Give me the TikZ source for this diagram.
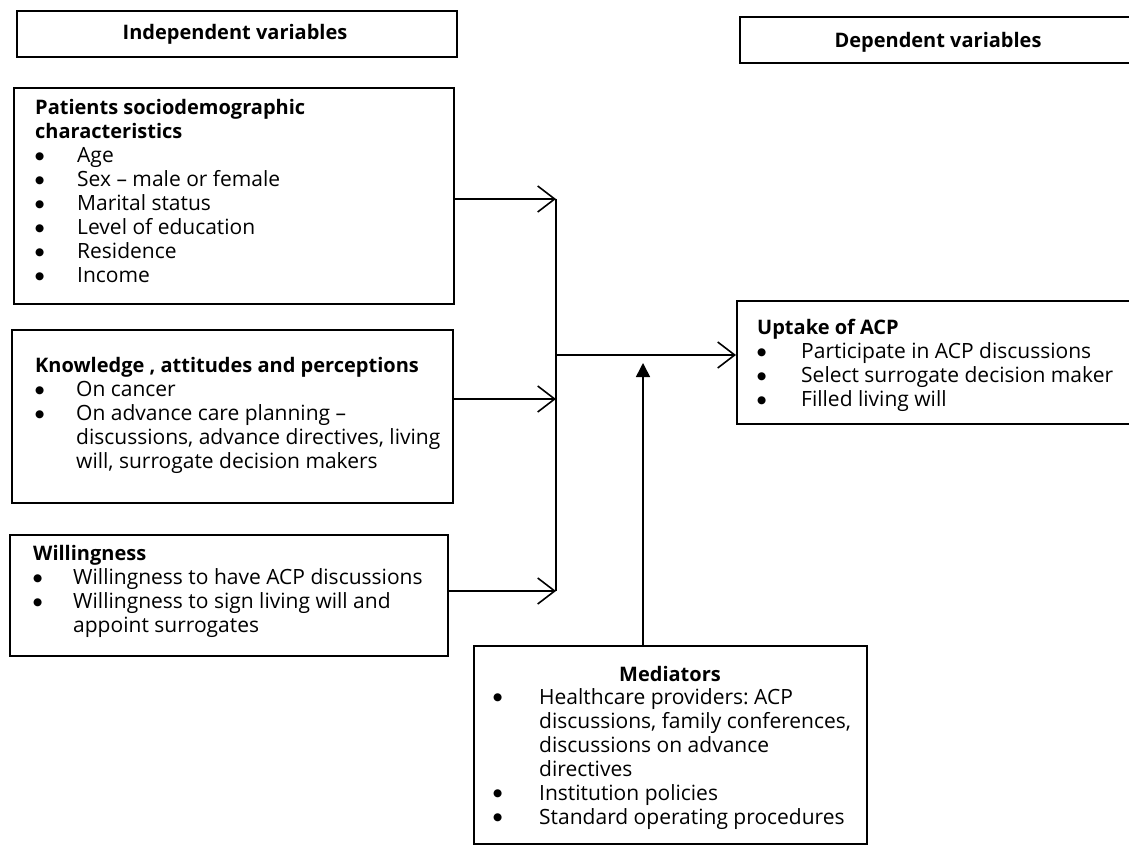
\documentclass[tikz,border=0pt]{standalone}
\usepackage{fontspec}
\setmainfont{Open Sans}
\newfontfamily\djv{DejaVu Sans}
\frenchspacing
\usetikzlibrary{arrows.meta}
\newcommand{\bigbul}{\raisebox{3.2pt}{\djv\fontsize{10.5}{10.5}\selectfont ●}}
\newcommand{\bl}[2][42pt]{\makebox[#1][l]{\bigbul}#2}
\newcommand{\hd}[1]{{\fontsize{20}{24}\selectfont\bfseries #1}}
\tikzset{
  boxframe/.style={draw, line width=1.6pt, rectangle},
  txt/.style={anchor=north west, inner sep=0pt, align=left, font=\fontsize{21}{24}\selectfont},
  link/.style={line width=1.6pt},
  barb/.style={link, -{Straight Barb[length=17pt,width=26pt,line width=1.6pt]}},
  tri/.style={link, -{Triangle[length=14pt,width=14pt]}}
}
\begin{document}
\begin{tikzpicture}[x=1pt,y=-1pt]
\useasboundingbox (0,0) rectangle (1129,845);
% header boxes
\draw[boxframe] (17,11) rectangle (457,57);
\node[font=\fontsize{20}{24}\selectfont\bfseries] (indep) at (235,34) {Independent variables};
\draw[boxframe] (740,17) rectangle (1140,63);
\node[font=\fontsize{20}{24}\selectfont\bfseries] (dep) at (938,42) {Dependent variables};
% Patients box
\node[boxframe, anchor=north west, minimum width=440pt, minimum height=216pt] (p) at (13,87) {};
\node[txt] (pt) at (35,99) {\hd{Patients sociodemographic}\\\hd{characteristics}\\
\bl{Age}\\\bl{Sex -- male or female}\\\bl{Marital status}\\\bl{Level of education}\\\bl{Residence}\\\bl{Income}};
% Knowledge box
\node[boxframe, anchor=north west, minimum width=441pt, minimum height=173pt] (k) at (11,329) {};
\node[txt] (kt) at (35,357) {\hd{Knowledge , attitudes and perceptions}\\
\bl[41pt]{On cancer}\\\bl[41pt]{On advance care planning --}\\\hspace{41pt}discussions, advance directives, living\\\hspace{41pt}will, surrogate decision makers};
% Willingness box
\node[boxframe, anchor=north west, minimum width=438pt, minimum height=121pt] (w) at (9,534) {};
\node[txt] (wt) at (33,545) {\hd{Willingness}\\
\bl[40pt]{Willingness to have ACP discussions}\\\bl[40pt]{Willingness to sign living will and}\\\hspace{40pt}appoint surrogates};
% Uptake box
\node[boxframe, anchor=north west, minimum width=404pt, minimum height=123pt] (u) at (736,300) {};
\node[txt] (ut) at (757,319) {\hd{Uptake of ACP}\\
\bl[44pt]{Participate in ACP discussions}\\\bl[44pt]{Select surrogate decision maker}\\\bl[44pt]{Filled living will}};
% Mediators box
\node[boxframe, anchor=north west, minimum width=393pt, minimum height=198pt] (m) at (473,645) {};
\node[font=\fontsize{20}{24}\selectfont\bfseries] (mh) at (670,674) {Mediators};
\node[txt] (mt) at (493,688) {\bl[46pt]{Healthcare providers: ACP}\\\hspace{46pt}discussions, family conferences,\\\hspace{46pt}discussions on advance\\\hspace{46pt}directives\\
\bl[46pt]{Institution policies}\\\bl[46pt]{Standard operating procedures}};
% connectors
\coordinate (j1) at (556,199);
\coordinate (j2) at (556,399);
\coordinate (j3) at (556,591);
\coordinate (jm) at (556,355);
\coordinate (mtip) at (643,363);
\draw[link] (j1) -- (j3);
\draw[barb] (p.east |- j1) -- (j1);
\draw[barb] (k.east |- j2) -- (j2);
\draw[barb] (w.east |- j3) -- (j3);
\draw[barb] (jm) -- (u.west |- jm);
\draw[tri] (m.north -| mtip) -- (mtip);
\end{tikzpicture}
\end{document}
